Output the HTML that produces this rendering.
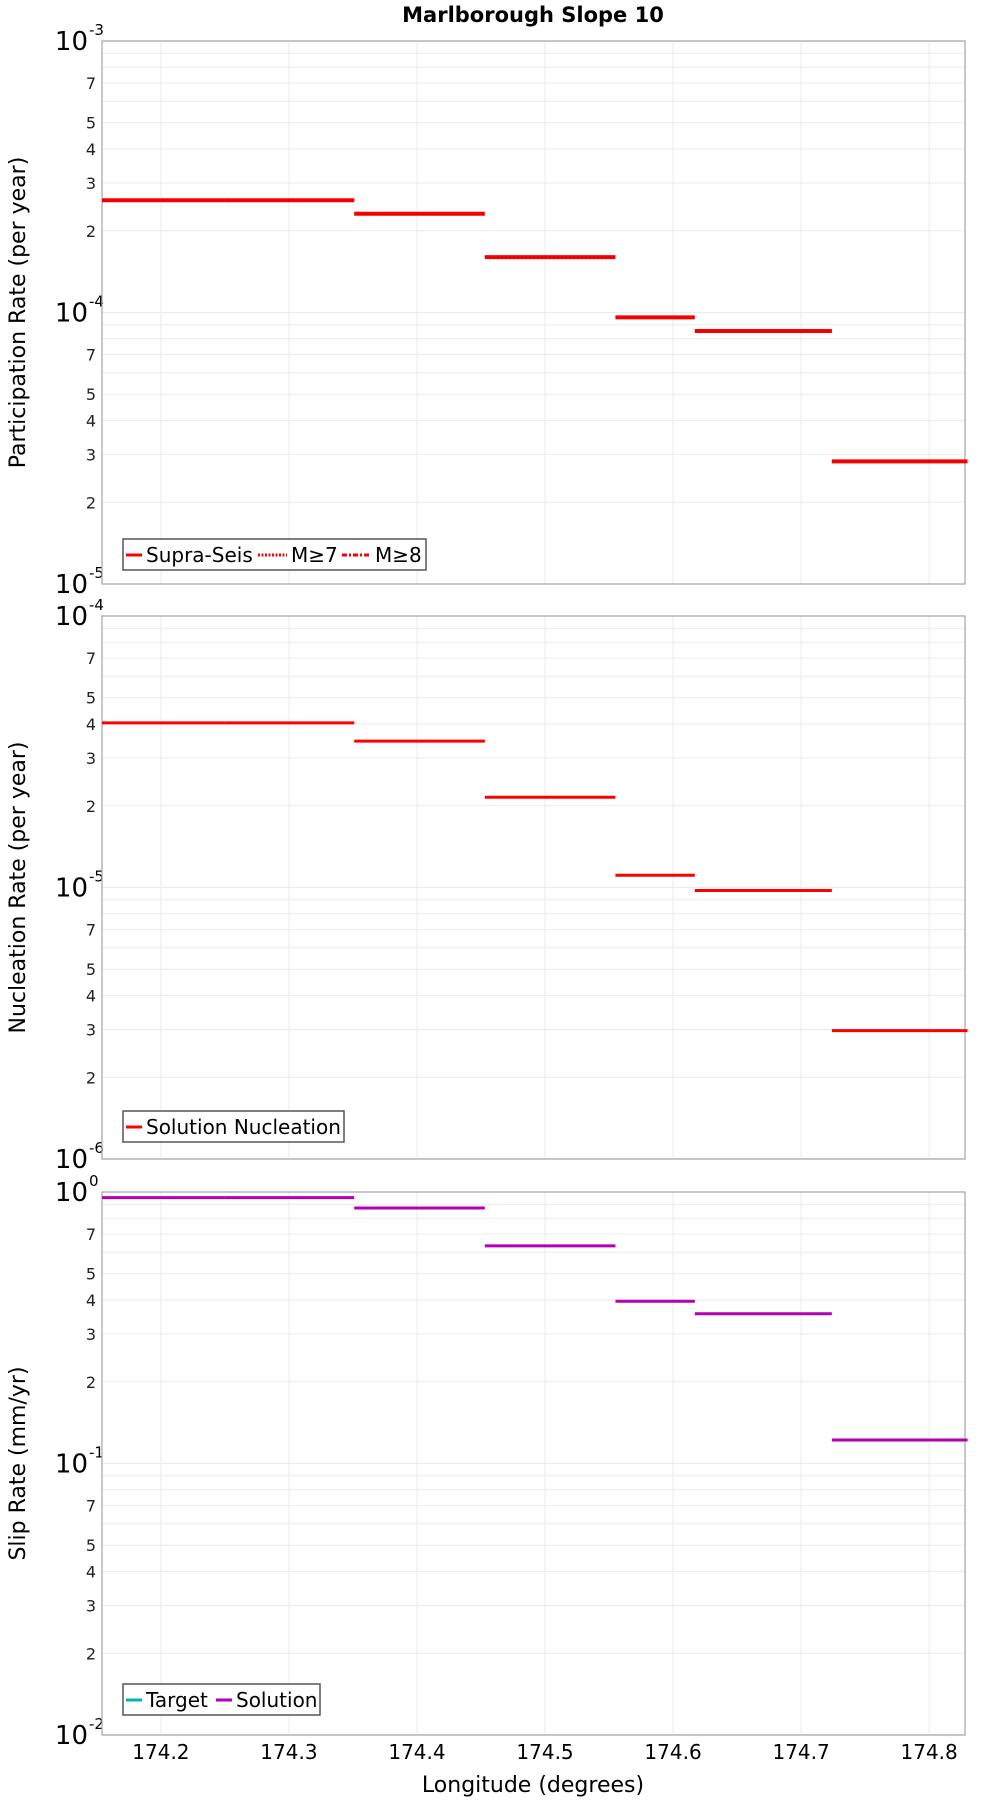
<!DOCTYPE html>
<html><head><meta charset="utf-8"><style>
body{margin:0;background:#fff}
svg{display:block;font-family:"DejaVu Sans","Liberation Sans",sans-serif}
</style></head><body>
<svg id="chart" width="1000" height="1800" viewBox="0 0 1000 1800" xmlns="http://www.w3.org/2000/svg">
<text x="533" y="22" text-anchor="middle" font-size="21" font-weight="bold">Marlborough Slope 10</text>
<text x="533" y="1792" text-anchor="middle" font-size="22">Longitude (degrees)</text>
</svg>
<script>
const xTicks = [174.2, 174.3, 174.4, 174.5, 174.6, 174.7, 174.8];
const segStarts = [174.154, 174.25, 174.351, 174.453, 174.555, 174.617, 174.724];
const segEnds = [174.25, 174.351, 174.453, 174.555, 174.617, 174.724, 174.83];
const participation = [2.59e-4, 2.59e-4, 2.31e-4, 1.60e-4, 9.6e-5, 8.55e-5, 2.83e-5];
const nucleation = [4.04e-5, 4.04e-5, 3.46e-5, 2.15e-5, 1.11e-5, 9.75e-6, 2.97e-6];
const slipSolution = [0.953, 0.953, 0.873, 0.633, 0.396, 0.356, 0.122];

const svg = document.getElementById('chart');
const NS = 'http://www.w3.org/2000/svg';
const L = 102, R = 965, X0 = 174.154, X1 = 174.828, H = 543;
function xs(v){ return L + (v - X0) / (X1 - X0) * (R - L); }
function mk(tag, attrs, parent){ const e = document.createElementNS(NS, tag); for (const k in attrs) e.setAttribute(k, attrs[k]); (parent||svg).appendChild(e); return e; }

function panel(top, expTop, title, key){
  const ys = v => top + (expTop - Math.log10(v)) / 2 * H;
  const g = mk('g', {});
  
  
  for (let d = expTop - 2; d < expTop; d++) {
    for (let m = 1; m <= 9; m++) {
      const v = m * Math.pow(10, d); const y = ys(v);
      if (m > 1) {
        const gl = mk('line', {x1: L, x2: R, y1: y, y2: y, stroke: '#ebebeb', 'stroke-width': 1}, g);
        
        
        if ([2,3,4,5,7].includes(m)) {
          const t = mk('text', {x: 96, y: y + 6, 'text-anchor': 'end', 'font-size': 16, fill: '#222'}, g);
          t.textContent = m;
          
          
        }
      }
    }
  }
  for (const e of [expTop, expTop - 1, expTop - 2]) {
    const y = ys(Math.pow(10, e));
    if (e === expTop - 1) {
      const gl = mk('line', {x1: L, x2: R, y1: y, y2: y, stroke: '#ebebeb', 'stroke-width': 1}, g);
      
      
    }
    const t = mk('text', {x: 88, y: y + 9, 'text-anchor': 'end', 'font-size': 26}, g);
    t.textContent = '10';
    
    
    const s = mk('text', {x: 89, y: y - 6, 'text-anchor': 'start', 'font-size': 15}, g);
    s.textContent = (e === 0 ? '0' : '-' + (-e));
    
    
  }
  for (const v of xTicks) {
    const gl = mk('line', {x1: xs(v), x2: xs(v), y1: top, y2: top + H, stroke: '#ebebeb', 'stroke-width': 1}, g);
    
    
  }
  const fr = mk('rect', {x: L, y: top, width: R - L, height: H, fill: 'none', stroke: '#aaa', 'stroke-width': 1.3}, g);
  
  
  const yt = mk('text', {x: 0, y: 0, 'text-anchor': 'middle', 'font-size': 22, transform: `translate(25,${top + H/2}) rotate(-90)`}, g);
  yt.textContent = title;
  
  
  return {g, ys};
}

const p1 = panel(41, -3, 'Participation Rate (per year)', 'participation');
participation.forEach((v, i) => {
  const y = p1.ys(v);
  const l = mk('line', {x1: xs(segStarts[i]), x2: xs(segEnds[i]), y1: y, y2: y, stroke: '#ff0000', 'stroke-width': 4}, p1.g);
  
  
  const d = mk('line', {x1: xs(segStarts[i]), x2: xs(segEnds[i]), y1: y, y2: y, stroke: '#e00000', 'stroke-width': 2, 'stroke-dasharray': '2 2'}, p1.g);
  
  
});
const p2 = panel(616, -4, 'Nucleation Rate (per year)', 'nucleation');
nucleation.forEach((v, i) => {
  const y = p2.ys(v);
  const l = mk('line', {x1: xs(segStarts[i]), x2: xs(segEnds[i]), y1: y, y2: y, stroke: '#ff0000', 'stroke-width': 3}, p2.g);
  
  
});
const p3 = panel(1192, 0, 'Slip Rate (mm/yr)', 'slip-rate');
slipSolution.forEach((v, i) => {
  const y = p3.ys(v);
  const l = mk('line', {x1: xs(segStarts[i]), x2: xs(segEnds[i]), y1: y, y2: y, stroke: '#b400b4', 'stroke-width': 3}, p3.g);
  
  
});
xTicks.forEach(v => {
  const t = mk('text', {x: xs(v), y: 1759, 'text-anchor': 'middle', 'font-size': 20});
  t.textContent = v.toFixed(1);
  
  
});

function legend(x, y, w, items){
  const g = mk('g', {});
  
  
  const r = mk('rect', {x: x, y: y, width: w, height: 31, fill: '#fff', stroke: '#555', 'stroke-width': 1.5}, g);
  
  
  let cx = x + 3;
  items.forEach(it => {
    const ln = mk('line', {x1: cx, x2: cx + it.s, y1: y + 16, y2: y + 16, stroke: it.c, 'stroke-width': 3, 'stroke-dasharray': it.d || ''}, g);
    
    
    const t = mk('text', {x: cx + it.s + 4, y: y + 23, 'font-size': 20}, g);
    t.textContent = it.t;
    
    
    cx += it.s + 4 + it.w;
  });
}
legend(123, 539, 303, [{t:'Supra-Seis', c:'#ff0000', s:16, w:112}, {t:'M≥7', c:'#ff0000', d:'2 1.5', s:29, w:51}, {t:'M≥8', c:'#ff0000', d:'5 2 2 2', s:29, w:50}]);
legend(123, 1111, 221, [{t:'Solution Nucleation', c:'#ff0000', s:16, w:200}]);
legend(123, 1684, 197, [{t:'Target', c:'#00b4b4', s:16, w:70}, {t:'Solution', c:'#b400b4', s:16, w:90}]);
</script>
</body></html>
